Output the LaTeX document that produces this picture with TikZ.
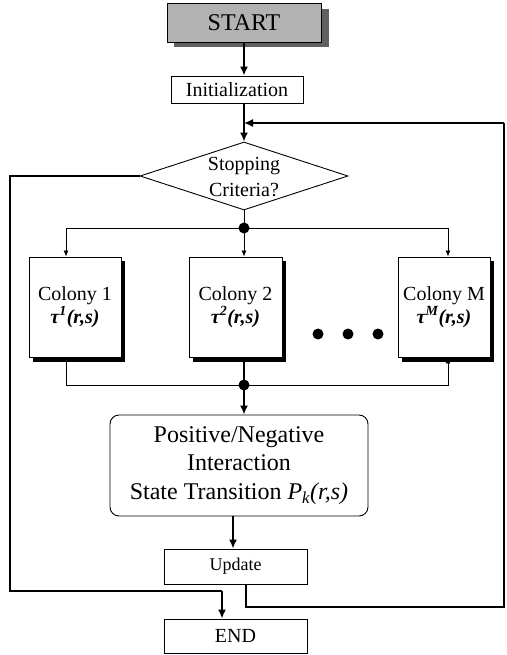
\documentclass[tikz,border=0pt]{standalone}
\usepackage{fontspec}
\setmainfont{Liberation Serif}
\usetikzlibrary{arrows.meta,shapes.geometric,calc}
\begin{document}
\begin{tikzpicture}[x=1pt,y=1pt,
  thick line/.style={line width=1.7pt},
  thin line/.style={line width=0.8pt},
  bigarrow/.style={thick line,-{Latex[length=9pt,width=8pt]}},
  smallarrow/.style={thin line,-{Latex[length=6pt,width=5pt]}},
  plainbox/.style={draw,line width=0.9pt,fill=white,inner sep=0pt,align=center},
  colonybox/.style={plainbox,minimum width=92pt,minimum height=100pt,font=\fontsize{20}{23}\selectfont},
  junction/.style={circle,fill=black,inner sep=0pt,minimum size=11pt},
  dotmark/.style={circle,fill=black,inner sep=0pt,minimum size=11pt}]
\useasboundingbox (0,0) rectangle (506,-655);

% START with shadow
\fill[gray!75!black] (174,-9) rectangle (329,-47);
\node[draw,line width=0.9pt,fill=gray!60,minimum width=154pt,minimum height=39pt,inner sep=0pt,
  font=\fontsize{24}{28}\selectfont] (start) at (244,-22.5) {START};

\node[plainbox,minimum width=132pt,minimum height=27pt,font=\fontsize{20}{24}\selectfont]
  (init) at (237,-89.5) {Initialization};

\node[diamond,draw,line width=0.9pt,minimum width=208pt,minimum height=68pt,inner sep=0pt]
  (dia) at (244,-176) {};
\node[align=center,inner sep=0pt,font=\fontsize{20}{26}\selectfont] (diatext) at (244,-177) {Stopping\\Criteria?};

\node[junction] (jtop) at (244,-228) {};
\node[junction] (jbot) at (244,-385) {};

% colonies with shadows
\fill[black] (33,-261) rectangle (125,-362);
\fill[black] (193,-261) rectangle (286,-362);
\fill[black] (402,-261) rectangle (494,-362);
\node[colonybox] (col1) at (75,-307) {Colony 1\\\textbf{\textit{τ\textsuperscript{1}(r,s)}}};
\node[colonybox,minimum width=93pt] (col2) at (235.5,-307) {Colony 2\\\textbf{\textit{τ\textsuperscript{2}(r,s)}}};
\node[colonybox] (colM) at (444,-307) {Colony M\\\textbf{\textit{τ\textsuperscript{M}(r,s)}}};

\node[dotmark] (d1) at (318,-334) {};
\node[dotmark] (d2) at (348,-334) {};
\node[dotmark] (d3) at (378,-334) {};

\node[plainbox,rounded corners=9pt,minimum width=258pt,minimum height=101pt,
  font=\fontsize{24}{28.5}\selectfont] (pos) at (239,-465.5)
  {Positive/Negative\\Interaction\\State Transition \textit{P\textsubscript{k}(r,s)}};

\node[plainbox,minimum width=143pt,minimum height=35pt,font=\fontsize{18}{22}\selectfont]
  (upd) at (235.5,-566.5) {Update};
\node[plainbox,minimum width=143pt,minimum height=34pt,font=\fontsize{20}{24}\selectfont]
  (end) at (235.5,-636) {END};

% coordinates for connector corners
\coordinate (c1x) at (66,0);
\coordinate (cMx) at (448,0);
\coordinate (loopR) at (504,-123);
\coordinate (leftx) at (10,0);

% main flow
\draw[bigarrow] (start.south) -- (start.south |- init.north);
\draw[bigarrow] (init.south -| dia.north) -- (dia.north);
\draw[thin line] (dia.south) -- (jtop.center);
\draw[smallarrow] (jtop.center) -- (c1x |- jtop.center) -- (c1x |- col1.north);
\draw[smallarrow] (jtop.center) -- (jtop.center |- col2.north);
\draw[smallarrow] (jtop.center) -- (cMx |- jtop.center) -- (cMx |- colM.north);
\draw[thin line] (c1x |- col1.south) -- (c1x |- jbot.center) -- (jbot.center);
\draw[smallarrow] (jbot.center) -- (cMx |- jbot.center) -- (cMx |- colM.south);
\draw[thick line] (jbot.center |- col2.south) -- (jbot.center);
\draw[bigarrow] (jbot.center) -- (jbot.center |- pos.north);
\draw[bigarrow] ($(pos.south)+(-6,0)$) -- ($(upd.north)+(-2.5,0)$);

% loop back from update
\draw[thick line,line width=1.4pt] ($(upd.south)+(10.5,0)$) |- (504,-607) -- (loopR);
\draw[bigarrow,line width=1.4pt] (loopR) -- (loopR -| dia.north);

% exit to END
\draw[thick line] (dia.west) -- (leftx |- dia.west) -- (leftx |- 0,-591) -- (222,-591);
\draw[bigarrow] (222,-591) -- (222,-591 |- end.north);
\end{tikzpicture}
\end{document}
